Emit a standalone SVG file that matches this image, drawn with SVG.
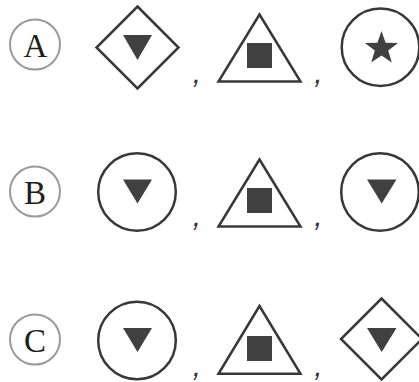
<svg xmlns="http://www.w3.org/2000/svg" width="419" height="382" viewBox="0 0 419 382">
<style>
.lbl{fill:none;stroke:#9a9a9a;stroke-width:2}
.lt{font-family:"Liberation Serif",serif;font-size:33px;fill:#1e1e1e;text-anchor:middle}
.sh{fill:#fff;stroke:#383838;stroke-width:2.5}
.in{fill:#404040;stroke:none}
.cm{font-family:"Liberation Sans",sans-serif;font-size:30px;fill:#333;text-anchor:middle;font-style:italic}
</style>
<rect width="419" height="382" fill="#fff"/>
<g id="optA">
<g id="labelA"><circle class="lbl" cx="35" cy="44.5" r="25"/><text class="lt" x="35.5" y="57">A</text></g>
<g id="A1"><polygon class="sh" points="137.5,6.5 178.5,47.5 137.5,88.5 96.5,47.5"/><polygon class="in" points="123,35 152,35 137.5,60"/></g>
<text class="cm" x="197" y="82.5">,</text>
<g id="A2"><polygon class="sh" points="259.5,14.5 218.5,81.5 300.5,81.5"/><rect class="in" x="247" y="43" width="25" height="25"/></g>
<text class="cm" x="318.5" y="82.5">,</text>
<g id="A3"><circle class="sh" cx="380.5" cy="47.3" r="38.8"/><polygon class="in" points="381.5,30.9 385.6,42.7 398.1,43 388.2,50.6 391.8,62.6 381.5,55.4 371.2,62.6 374.8,50.6 364.9,43 377.4,42.7"/></g>
</g>
<g id="optB">
<g id="labelB"><circle class="lbl" cx="35" cy="191.5" r="25"/><text class="lt" x="35" y="204">B</text></g>
<g id="B1"><circle class="sh" cx="137" cy="192" r="38.8"/><polygon class="in" points="123,179.5 152,179.5 137.5,203.5"/></g>
<text class="cm" x="197" y="226">,</text>
<g id="B2"><polygon class="sh" points="259.5,159.5 218.5,226.5 300.5,226.5"/><rect class="in" x="247" y="188" width="25" height="25"/></g>
<text class="cm" x="318.5" y="226">,</text>
<g id="B3"><circle class="sh" cx="380" cy="192" r="38.8"/><polygon class="in" points="367,179.5 396.5,179.5 381.7,203.5"/></g>
</g>
<g id="optC">
<g id="labelC"><circle class="lbl" cx="35" cy="339.5" r="25"/><text class="lt" x="35" y="352">C</text></g>
<g id="C1"><circle class="sh" cx="137" cy="340.5" r="38.8"/><polygon class="in" points="123,328 152,328 137.5,352"/></g>
<text class="cm" x="197" y="375.5">,</text>
<g id="C2"><polygon class="sh" points="259.5,306 218.5,373.8 300.5,373.8"/><rect class="in" x="247" y="336" width="25" height="25"/></g>
<text class="cm" x="318.5" y="375.5">,</text>
<g id="C3"><polygon class="sh" points="381.5,298.5 422,339 381.5,379.5 341,339"/><polygon class="in" points="367,328 396.5,328 381.7,352"/></g>
</g>
<g id="connectors"></g>
</svg>
